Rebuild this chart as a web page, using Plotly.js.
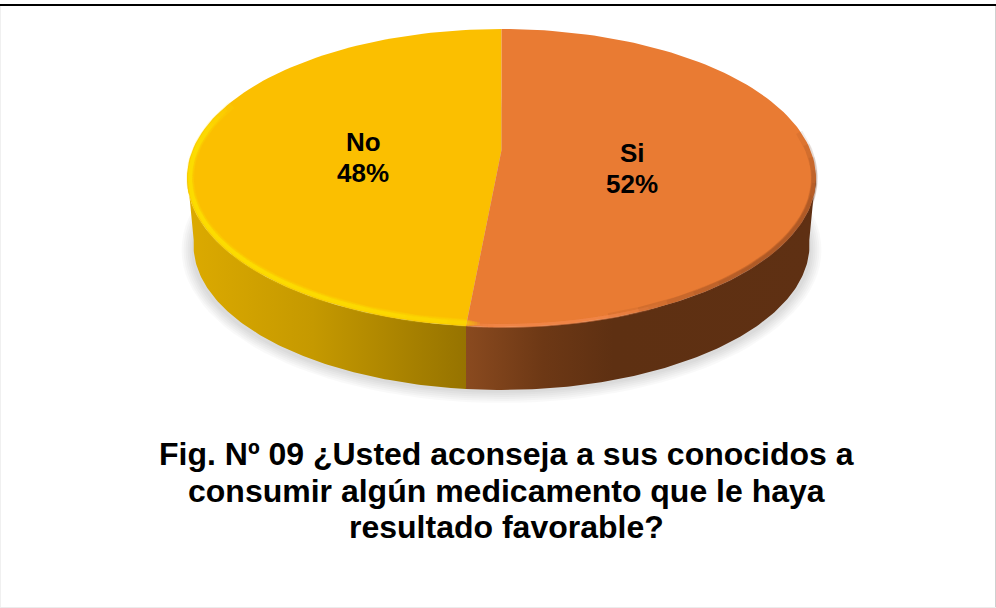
<!DOCTYPE html>
<html>
<head>
<meta charset="utf-8">
<script src="https://cdn.plot.ly/plotly-3.0.1.min.js"></script>
<style>
  html, body { margin: 0; padding: 0; background: #fff; }
  #chart { width: 996px; height: 608px; }
</style>
</head>
<body>
<div id="chart"></div>
<script>
"use strict";
const categories = ["Si", "No"];
const values = [51.8, 48.2];
const titleLines = [
  "Fig. Nº 09 ¿Usted aconseja a sus conocidos a",
  "consumir algún medicamento que le haya",
  "resultado favorable?",
];

// plot coords are page pixels, y grows downwards
const topFace = {cx: 501.5, cy: 178, rx: 314.5, ry: 149};
const bottomFace = {cx: 501.5, cy: 245, rx: 308, ry: 145};
const apex = {x: 501.5, y: 150};

const total = values[0] + values[1];
const splitAngle = values[0] / total * 2 * Math.PI;
// same x on the lower ellipse, so the wall seam stays vertical
const splitBottom = Math.PI + Math.asin(Math.sin(splitAngle - Math.PI) * topFace.rx / bottomFace.rx);
const deg = Math.PI / 180;
const fontFamily = "Liberation Sans, Arial, sans-serif";

/**
 * Points along an ellipse, angles clockwise from the top
 */
function arc(e, from, to, inset = 0) {
  const xs = [];
  const ys = [];
  const steps = 120;
  for (let i = 0; i <= steps; i++) {
    const t = from + (to - from) * i / steps;
    xs.push(e.cx + (e.rx - inset) * Math.sin(t));
    ys.push(e.cy - (e.ry - inset) * Math.cos(t));
  }
  return {x: xs, y: ys};
}

function filled(x, y, extra) {
  return Object.assign({
    x, y,
    type: "scatter",
    mode: "lines",
    fill: "toself",
    line: {width: 0},
    hoverinfo: "skip",
    showlegend: false,
  }, extra);
}

function stroke(e, from, to, inset, color, width) {
  const p = arc(e, from, to, inset);
  return {
    x: p.x, y: p.y,
    type: "scatter",
    mode: "lines",
    line: {color, width, shape: "linear"},
    hoverinfo: "skip",
    showlegend: false,
  };
}

function slice(from, to, color) {
  const p = arc(topFace, from, to);
  return filled([apex.x, ...p.x, apex.x], [apex.y, ...p.y, apex.y], {fillcolor: color});
}

function wall(from, to, fromBottom, toBottom, scale) {
  const a = arc(topFace, from, to);
  const b = arc(bottomFace, toBottom, fromBottom);
  return filled([...a.x, ...b.x, a.x[0]], [...a.y, ...b.y, a.y[0]], {
    fillcolor: "rgba(0,0,0,0)",
    fillgradient: {type: "horizontal", colorscale: scale},
  });
}

function label(text, x, y, size) {
  return {
    x, y,
    xref: "x", yref: "y",
    showarrow: false,
    text,
    font: {family: fontFamily, size, color: "#000", weight: 700},
  };
}

function percent(i) {
  return `${Math.round(values[i] / total * 100)}%`;
}

const traces = [];

// soft shadow under the disc
for (let d = 0; d <= 10; d += 2) {
  const p = arc({cx: 501.5, cy: 250, rx: 310 + d, ry: 143 + d}, 0, 2 * Math.PI);
  traces.push(filled(p.x, p.y, {fillcolor: "rgba(0,0,0,0.022)"}));
}

// side walls
traces.push(wall(splitAngle, 272 * deg, splitBottom, 272 * deg, [
  [0, "#dcaa00"], [0.45, "#c59900"], [1, "#967300"],
]));
traces.push(wall(88 * deg, splitAngle, 88 * deg, splitBottom, [
  [0, "#8a4a1f"], [0.22, "#6d3815"], [0.42, "#5e3012"], [1, "#5f3013"],
]));

// top face
traces.push(slice(splitAngle, 2 * Math.PI, "#fbbf00"));
traces.push(slice(0, splitAngle, "#e97b33"));

// bevel along the rim, stacked so the ends fade out
for (let k = 0; k < 6; k++) {
  traces.push(stroke(topFace, splitAngle - k * 0.5 * deg, (300 - k * 3) * deg, 3, "rgba(255,224,0,0.14)", 8 - k));
  traces.push(stroke(topFace, (190 + k * 8) * deg, (298 - k * 3) * deg, 3, "rgba(255,224,0,0.22)", 4));
  traces.push(stroke(topFace, (72 + k * 5) * deg, (160 - k * 6) * deg, 1.5, "rgba(120,62,25,0.1)", 7 - k * 0.6));
  traces.push(stroke(topFace, (150 + k * 2) * deg, splitAngle - k * deg, 1, "rgba(245,145,85,0.14)", 4));
}

const annotations = [
  label(categories[0], 632, 153, 26),
  label(percent(0), 632, 184, 26),
  label(categories[1], 363, 142, 26),
  label(percent(1), 363, 173, 26),
];
titleLines.forEach((line, i) => {
  annotations.push(label(line, 506, 454 + i * 36.5, 32));
});

// page frame: heavy top rule, faint grey on the other sides
const shapes = [
  {type: "line", x0: 0, x1: 996, y0: 5, y1: 5, line: {color: "#000", width: 2}},
  {type: "line", x0: 995.5, x1: 995.5, y0: 6, y1: 608, line: {color: "#cfcfcf", width: 1}},
  {type: "line", x0: 0.5, x1: 0.5, y0: 6, y1: 608, line: {color: "#f0f0f0", width: 1}},
  {type: "line", x0: 0, x1: 996, y0: 607.5, y1: 607.5, line: {color: "#ececec", width: 1}},
];

const layout = {
  width: 996,
  height: 608,
  margin: {l: 0, r: 0, t: 0, b: 0},
  paper_bgcolor: "#fff",
  plot_bgcolor: "#fff",
  showlegend: false,
  xaxis: {range: [0, 996], visible: false, fixedrange: true},
  yaxis: {range: [608, 0], visible: false, fixedrange: true},
  annotations,
  shapes,
};

Plotly.newPlot("chart", traces, layout, {displayModeBar: false, staticPlot: true});
</script>
</body>
</html>
